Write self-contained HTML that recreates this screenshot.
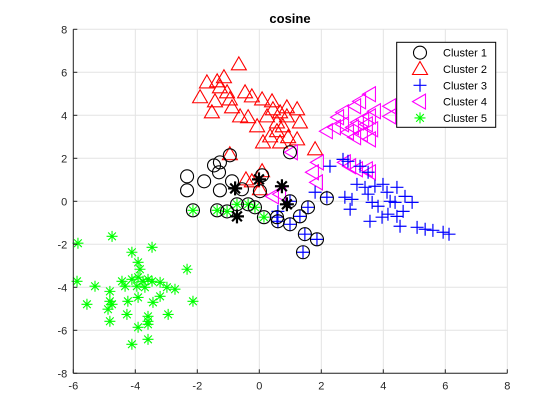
<!DOCTYPE html>
<html><head><meta charset="utf-8"><style>
html,body{margin:0;padding:0;background:#fff;}
svg{display:block;font-family:"Liberation Sans",Arial,sans-serif;}
</style></head><body>
<svg id="chart" width="560" height="420" viewBox="0 0 560 420" xmlns="http://www.w3.org/2000/svg">
<rect x="0" y="0" width="560" height="420" fill="#fff"/>
<rect x="73.3" y="29.3" width="434" height="344" fill="#fff"/>
<g id="grid"></g><g id="marks"></g><g id="axes"></g>
<text x="290" y="23" text-anchor="middle" font-size="13" font-weight="bold" fill="#000">cosine</text>
<g id="legend"></g>
</svg>
<script>
const xTicks=[-6,-4,-2,0,2,4,6,8];
const yTicks=[-8,-6,-4,-2,0,2,4,6,8];
const c1x=[-2.33,-2.33,-1.78,-1.46,-1.30,-1.27,-1.27,-0.88,-0.56,0.09,0.02,0.57,0.99,1.31,1.57,1.47,1.86,1.41,0.99,2.18,-2.14,-1.36,-1.04,-0.72,-0.36,-0.14,0.15,0.60,0.99,-0.95];
const c1y=[1.16,0.51,0.93,1.67,1.35,1.81,0.51,0.93,0.56,1.21,0.47,-0.74,-1.07,-0.70,-0.28,-1.53,-1.77,-2.37,2.28,0.14,-0.42,-0.42,-0.47,-0.14,-0.14,-0.28,-0.74,-0.93,0.00,2.14];
const starX=[-0.78,-0.72,-0.01,0.73,0.89];
const starY=[0.60,-0.70,1.02,0.70,-0.14];
const c2x=[-0.66,-1.69,-1.36,-1.14,-1.27,-1.91,-1.43,-1.53,-1.04,-0.95,-0.88,-0.46,-0.24,0.09,0.41,-0.62,-0.36,-0.07,0.25,0.44,0.67,0.89,1.22,0.57,0.76,1.31,0.35,0.12,0.67,0.93,1.22,0.57,0.89,-0.95,-0.43,0.09,0.02,-0.24,1.80];
const c2y=[6.37,5.53,5.58,5.77,5.30,4.84,4.65,4.14,5.07,4.74,4.37,5.07,4.88,4.74,4.65,3.95,3.91,3.49,3.95,4.28,4.14,4.37,4.28,3.67,3.49,3.67,3.02,2.74,2.74,2.98,2.88,3.26,3.95,2.19,1.02,1.40,0.56,0.93,2.42];
const c3x=[2.70,2.86,2.28,3.25,3.51,3.15,3.41,3.73,3.99,4.44,1.80,2.18,2.76,2.99,2.93,3.51,3.64,3.83,4.12,4.22,4.38,4.70,4.93,4.64,4.15,3.96,3.57,4.44,4.54,5.09,5.35,5.60,5.93,6.12,0.60,0.60,0.99,0.57,0.99,1.31,1.57,1.47,1.86,1.41];
const c3y=[1.95,1.86,1.63,1.63,1.35,0.79,0.65,0.70,0.79,0.65,0.42,0.19,0.19,0.09,-0.37,0.33,-0.05,-0.23,0.42,0.00,-0.05,0.23,-0.05,-0.47,-0.60,-0.74,-0.93,-0.70,-1.16,-1.21,-1.30,-1.35,-1.44,-1.53,-0.47,-0.93,0.00,-0.74,-1.07,-0.70,-0.28,-1.53,-1.77,-2.37];
const c4x=[3.57,3.25,3.09,2.70,2.54,2.18,2.44,2.70,2.86,3.02,3.18,3.35,3.57,3.73,3.47,3.64,3.31,3.09,3.57,4.22,4.22,1.89,1.73,1.86,2.76,2.93,3.15,3.47,3.57,1.05,0.44,0.67];
const c4y=[4.98,4.65,4.42,4.14,3.91,3.26,3.44,3.58,3.21,3.44,3.67,3.81,3.95,4.19,3.58,3.35,3.12,2.98,2.88,4.42,3.95,1.81,1.35,0.88,1.81,1.63,1.49,1.49,1.35,2.28,0.23,0.33];
const c5x=[-2.14,-1.36,-1.04,-0.72,-0.36,-0.14,0.15,-5.85,-4.75,-3.46,-4.11,-3.91,-3.85,-2.33,-5.88,-5.30,-4.43,-4.33,-4.11,-3.91,-3.75,-3.59,-3.46,-3.20,-2.98,-2.72,-3.95,-3.69,-4.82,-3.91,-4.24,-3.43,-3.20,-2.14,-5.56,-4.82,-4.75,-4.88,-4.27,-3.59,-2.94,-3.59,-3.59,-4.82,-3.91,-3.59,-4.11];
const c5y=[-0.42,-0.42,-0.47,-0.14,-0.14,-0.28,-0.74,-1.95,-1.63,-2.14,-2.37,-2.84,-3.16,-3.16,-3.72,-3.95,-3.72,-3.95,-3.63,-3.53,-3.72,-3.63,-3.72,-3.77,-4.00,-4.09,-3.95,-4.00,-4.19,-4.47,-4.65,-4.70,-4.42,-4.65,-4.79,-4.65,-4.79,-5.02,-5.26,-5.35,-5.26,-5.58,-5.72,-5.58,-5.86,-6.42,-6.65];
const legendLabels=["Cluster 1","Cluster 2","Cluster 3","Cluster 4","Cluster 5"];

const X0=73.3,X1=507.3,Y0=373.3,Y1=29.3;
const sx=v=>X0+(v-(-6))/(8-(-6))*(X1-X0);
const sy=v=>Y0-(v-(-8))/(8-(-8))*(Y0-Y1);
const NS="http://www.w3.org/2000/svg";
function mk(tag,attrs,parent){const e=document.createElementNS(NS,tag);for(const k in attrs)e.setAttribute(k,attrs[k]);parent.appendChild(e);return e;}
const grid=document.getElementById('grid'),axes=document.getElementById('axes'),marks=document.getElementById('marks'),legend=document.getElementById('legend');
xTicks.forEach(t=>{
  const l=mk('line',{x1:sx(t),x2:sx(t),y1:Y0,y2:Y1,stroke:'#e3e3e3','stroke-width':1},grid);
  
  
  const tk=mk('line',{x1:sx(t),x2:sx(t),y1:Y0,y2:Y0-4,stroke:'#262626'},axes);
  
  
  const tx=mk('text',{x:sx(t),y:Y0+16,'text-anchor':'middle','font-size':11,fill:'#262626'},axes);
  tx.textContent=t;
  
  
});
yTicks.forEach(t=>{
  const l=mk('line',{x1:X0,x2:X1,y1:sy(t),y2:sy(t),stroke:'#e3e3e3','stroke-width':1},grid);
  
  
  const tk=mk('line',{x1:X0,x2:X0+4,y1:sy(t),y2:sy(t),stroke:'#262626'},axes);
  
  
  const tx=mk('text',{x:X0-6,y:sy(t)+4,'text-anchor':'end','font-size':11,fill:'#262626'},axes);
  tx.textContent=t;
  
  
});
const xa=mk('line',{x1:X0,x2:X1,y1:Y0,y2:Y0,stroke:'#262626'},axes);


const ya=mk('line',{x1:X0,x2:X0,y1:Y0,y2:Y1,stroke:'#262626'},axes);



function marker(type,cx,cy,p,big){
  let e;
  if(type==='o'){e=mk('circle',{cx:cx,cy:cy,r:6.5,fill:'none',stroke:'#000','stroke-width':1.1},p);}
  else if(type==='^'){e=mk('polygon',{points:`${cx},${cy-7.5} ${cx+7.5},${cy+5.5} ${cx-7.5},${cy+5.5}`,fill:'none',stroke:'#ff0000','stroke-width':1.1},p);}
  else if(type==='<'){e=mk('polygon',{points:`${cx-7.5},${cy} ${cx+5.5},${cy-7.5} ${cx+5.5},${cy+7.5}`,fill:'none',stroke:'#ff00ff','stroke-width':1.1},p);}
  else if(type==='+'){e=mk('path',{d:`M${cx-6.5},${cy}H${cx+6.5}M${cx},${cy-6.5}V${cy+6.5}`,stroke:'#0000ff','stroke-width':1.2,fill:'none'},p);}
  else {const s=big?7:5.5,d=s*0.7,col=big?'#000':'#00ff00';
    e=mk('path',{d:`M${cx-s},${cy}H${cx+s}M${cx},${cy-s}V${cy+s}M${cx-d},${cy-d}L${cx+d},${cy+d}M${cx-d},${cy+d}L${cx+d},${cy-d}`,stroke:col,'stroke-width':big?2.2:1.1,fill:'none'},p);}
  return e;
}
function series(xs,ys,type,name,big){
  const g=mk('g',{},marks);
  
  
  xs.forEach((v,i)=>{
    const m=marker(type,sx(v),sy(ys[i]),g,big);
    
    
  });
}
series(c2x,c2y,'^','cluster-2');
series(c4x,c4y,'<','cluster-4');
series(c3x,c3y,'+','cluster-3');
series(c5x,c5y,'*','cluster-5');
series(c1x,c1y,'o','cluster-1');
series(starX,starY,'*','centroids',true);

mk('rect',{x:396.7,y:42.3,width:99,height:85,fill:'#fff',stroke:'#000','stroke-width':1},legend);
const ltypes=['o','^','+','<','*'];
legendLabels.forEach((lab,i)=>{
  const cy=52.7+i*16.3;
  const g=mk('g',{},legend);
  
  
  marker(ltypes[i],420,cy,g,false);
  const t=mk('text',{x:443,y:cy+4,'font-size':11,fill:'#000'},g);
  t.textContent=lab;
});
</script>
</body></html>
